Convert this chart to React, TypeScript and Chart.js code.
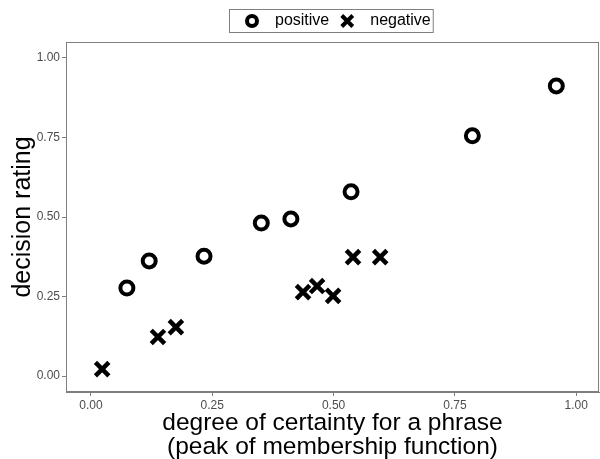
import React, { useEffect, useRef } from "react";
import { Chart, registerables } from "chart.js";

Chart.register(...registerables);

const seriesNames = ["positive", "negative"];
const positiveX = [0.074, 0.12, 0.233, 0.351, 0.412, 0.536, 0.786, 0.959];
const positiveY = [0.277, 0.362, 0.377, 0.481, 0.494, 0.579, 0.755, 0.912];
const negativeX = [0.023, 0.138, 0.175, 0.437, 0.466, 0.499, 0.54, 0.596];
const negativeY = [0.022, 0.123, 0.154, 0.264, 0.283, 0.252, 0.374, 0.374];
const tickValues = [0, 0.25, 0.5, 0.75, 1];
const xTitle = ["degree of certainty for a phrase", "(peak of membership function)"];
const yTitle = "decision rating";

const FONT = "'Liberation Sans', Arial, Helvetica, sans-serif";
const GRAY = "#7f7f7f";

const panelBorder = {
  id: "panelBorder",
  afterDatasetsDraw(chart: any) {
    const { ctx, chartArea: a } = chart;
    ctx.save();
    ctx.strokeStyle = GRAY;
    ctx.lineWidth = 1;
    ctx.strokeRect(a.left + 0.5, a.top + 0.5, a.right - a.left - 1, a.bottom - a.top - 1);
    ctx.restore();
  },
};

const boxLegend = {
  id: "boxLegend",
  afterDraw(chart: any) {
    const { ctx, chartArea: a } = chart;
    ctx.save();
    ctx.font = `16px ${FONT}`;
    ctx.textBaseline = "middle";
    ctx.fillStyle = "#000";
    const w1 = ctx.measureText(seriesNames[0]).width;
    const w2 = ctx.measureText(seriesNames[1]).width;
    const total = 23 + 23 + w1 + 18 + 23 + w2 + 2;
    const center = (a.left + a.right) / 2 - 2;
    const L = Math.round(center - total / 2);
    const top = 9;
    const h = 23;
    const cy = top + h / 2 + 0.5;
    ctx.strokeStyle = GRAY;
    ctx.lineWidth = 1;
    ctx.strokeRect(L + 0.5, top + 0.5, total, h);
    ctx.strokeStyle = "#000";
    ctx.lineWidth = 4;
    ctx.beginPath();
    ctx.arc(L + 23, cy, 5, 0, Math.PI * 2);
    ctx.stroke();
    const t1 = L + 46;
    ctx.fillText(seriesNames[0], t1, cy);
    const cx2 = t1 + w1 + 18;
    ctx.lineWidth = 4;
    const d = 5.5;
    ctx.beginPath();
    ctx.moveTo(cx2 - d, cy - d);
    ctx.lineTo(cx2 + d, cy + d);
    ctx.moveTo(cx2 + d, cy - d);
    ctx.lineTo(cx2 - d, cy + d);
    ctx.stroke();
    ctx.fillText(seriesNames[1], cx2 + 23, cy);
    ctx.restore();
  },
};

export default function App() {
  const ref = useRef<HTMLCanvasElement>(null);
  useEffect(() => {
    if (!ref.current) return;
    const chart = new Chart(ref.current, {
      type: "scatter",
      data: {
        datasets: [
          {
            label: seriesNames[0],
            data: positiveX.map((x, i) => ({ x, y: positiveY[i] })),
            pointStyle: "circle",
            pointRadius: 6.5,
            pointBorderWidth: 4,
            borderColor: "#000",
            backgroundColor: "rgba(0,0,0,0)",
            pointBackgroundColor: "rgba(0,0,0,0)",
            pointBorderColor: "#000",
          },
          {
            label: seriesNames[1],
            data: negativeX.map((x, i) => ({ x, y: negativeY[i] })),
            pointStyle: "crossRot",
            pointRadius: 9.5,
            pointBorderWidth: 4.5,
            borderColor: "#000",
            pointBorderColor: "#000",
          },
        ],
      },
      options: {
        animation: false,
        responsive: false,
        maintainAspectRatio: false,
        devicePixelRatio: 1,
        layout: { autoPadding: false, padding: { top: 42, right: 1, left: 0, bottom: 0 } },
        plugins: { legend: { display: false }, tooltip: { enabled: false } },
        scales: {
          x: {
            type: "linear",
            min: -0.0515,
            max: 1.047,
            afterBuildTicks: (s: any) => {
              s.ticks = tickValues.map((value) => ({ value }));
            },
            afterFit: (s: any) => {
              s.height = 67;
              s.paddingLeft = 0;
              s.paddingRight = 0;
            },
            grid: { drawOnChartArea: false, drawTicks: true, tickLength: 4, tickColor: GRAY },
            border: { display: true, color: GRAY },
            ticks: {
              padding: 2,
              maxRotation: 0,
              color: "#4d4d4d",
              font: { family: FONT, size: 12 },
              callback: (v: any) => Number(v).toFixed(2),
            },
            title: {
              display: true,
              text: xTitle,
              color: "#000",
              font: { family: FONT, size: 24.5, lineHeight: 0.96 },
              padding: { top: 0, bottom: 0 },
            },
          },
          y: {
            type: "linear",
            min: -0.05,
            max: 1.05,
            afterBuildTicks: (s: any) => {
              s.ticks = tickValues.map((value) => ({ value }));
            },
            afterFit: (s: any) => {
              s.width = 66;
              s.paddingTop = 0;
              s.paddingBottom = 0;
            },
            grid: { drawOnChartArea: false, drawTicks: true, tickLength: 4, tickColor: GRAY },
            border: { display: true, color: GRAY },
            ticks: {
              padding: 2,
              color: "#4d4d4d",
              font: { family: FONT, size: 12 },
              callback: (v: any) => Number(v).toFixed(2),
            },
            title: {
              display: true,
              text: yTitle,
              color: "#000",
              font: { family: FONT, size: 25, lineHeight: 1.0 },
              padding: { top: 11, bottom: 0 },
            },
          },
        },
      },
      plugins: [panelBorder, boxLegend],
    });
    return () => chart.destroy();
  }, []);
  return (
    <div style={{ position: "absolute", left: 0, top: 0, width: 600, height: 459, background: "#fff" }}>
      <canvas ref={ref} width={600} height={459} style={{ display: "block", width: 600, height: 459 }} />
    </div>
  );
}
